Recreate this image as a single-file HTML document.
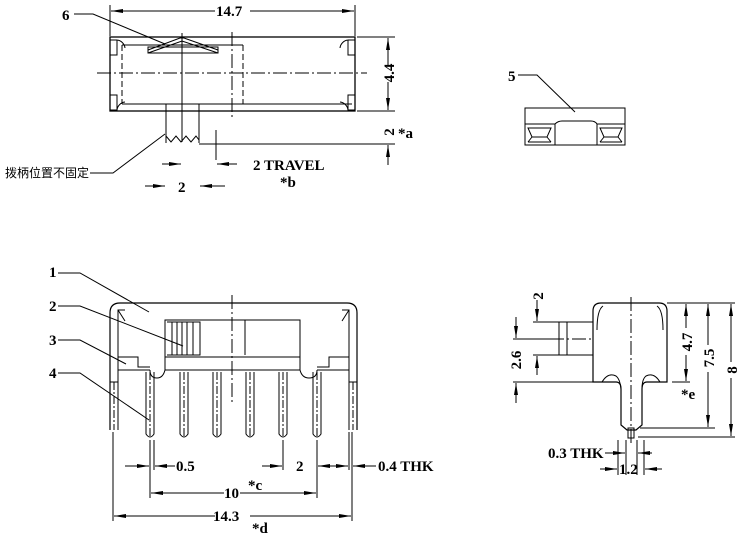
<!DOCTYPE html>
<html><head><meta charset="utf-8"><style>
html,body{margin:0;padding:0;background:#fff;width:742px;height:539px;overflow:hidden}
svg{display:block}
text{font-family:"Liberation Serif","Noto Serif CJK SC",serif;font-size:15px;font-weight:bold;fill:#000}
.cn{font-family:"Liberation Sans","Noto Sans CJK SC",sans-serif;font-size:12px;font-weight:normal}
</style></head><body>
<svg width="742" height="539" viewBox="0 0 742 539" xmlns="http://www.w3.org/2000/svg">
<defs>
<marker id="a" viewBox="0 0 12 4" refX="12" refY="2" markerWidth="12" markerHeight="4" orient="auto" markerUnits="userSpaceOnUse"><path d="M0,0L12,2L0,4z" fill="#000"/></marker>
</defs>
<g stroke="#000" stroke-width="1" fill="none">
<!-- TOP VIEW -->
<line x1="110" y1="5" x2="110" y2="36"/><line x1="355" y1="5" x2="355" y2="36"/>
<line x1="215" y1="11" x2="111" y2="11" marker-end="url(#a)"/><line x1="250" y1="11" x2="354" y2="11" marker-end="url(#a)"/>
<rect x="110" y="37" width="245" height="74" stroke-width="1.3"/>
<line x1="122" y1="45" x2="243" y2="45"/><line x1="122" y1="104" x2="352" y2="104"/>
<line x1="122" y1="45" x2="122" y2="104" stroke-dasharray="6,3"/>
<line x1="243" y1="45" x2="243" y2="104" stroke-dasharray="6,3"/>
<line x1="97" y1="73" x2="367" y2="73" stroke-dasharray="14,3,2,3"/>
<line x1="182" y1="33" x2="182" y2="142"/>
<line x1="232" y1="32" x2="232" y2="117" stroke-dasharray="14,3,2,3"/>
<path d="M110,40h7v15h-7M117,40a9,9 0 0 1 8,8M110,95h7v15h-7M117,110a9,9 0 0 1 8,-8M355,40h-7v15h7M348,40a9,9 0 0 0 -8,8M355,95h-7v15h7M348,110a9,9 0 0 0 -8,-8"/>
<rect x="148" y="47" width="70" height="6"/>
<path d="M148,50L180,38L184,38L218,50M148,53L182,41L218,53"/>
<path d="M166,104V143M199,104V143M166,136L171,142L176,136L181,142L186,136L191,142L196,136L199,140"/>
<text x="62" y="20" stroke="none">6</text>
<polyline points="74,14 93,14 165,44"/>
<line x1="199" y1="144" x2="395" y2="144"/><line x1="357" y1="111" x2="395" y2="111"/><line x1="357" y1="37" x2="395" y2="37"/>
<line x1="388" y1="65" x2="388" y2="38" marker-end="url(#a)"/><line x1="388" y1="82" x2="388" y2="110" marker-end="url(#a)"/>
<line x1="388" y1="165" x2="388" y2="145" marker-end="url(#a)"/>
<line x1="216" y1="130" x2="216" y2="160"/>
<line x1="237" y1="164" x2="217" y2="164" marker-end="url(#a)"/>
<line x1="162" y1="164" x2="181" y2="164" marker-end="url(#a)"/>
<line x1="145" y1="186" x2="165" y2="186" marker-end="url(#a)"/>
<line x1="225" y1="186" x2="200" y2="186" marker-end="url(#a)"/>
<polyline points="90,173 113,173 165,134"/>
<!-- PART 5 -->
<polyline points="518,75 537,75 575,112"/>
<rect x="525" y="108" width="100" height="37"/>
<path d="M525,124H555Q558,121 562,121H591Q595,121 597,124H625"/>
<path d="M555,124V145M597,124V145"/>
<path d="M528,128L551,128L547,137L532,137Z M528,142L551,142M532,137L528,142M547,137L551,142"/>
<path d="M600,128L622,128L618,137L604,137Z M600,142L622,142M604,137L600,142M618,137L622,142"/>
<!-- FRONT VIEW -->
<polyline points="58,273 80,273 149,312"/>
<polyline points="58,306 80,306 183,346"/>
<polyline points="58,340 80,340 126,364"/>
<polyline points="58,373 80,373 149,420"/>
<path d="M110,430V313Q110,303 120,303H347Q357,303 357,313V430" stroke-width="1.2"/>
<path d="M118,430V310H125M349,430V310H342M118,310L125,321M349,310L342,321"/>
<path d="M110,382H118M349,382H357"/>
<path d="M118,357H138V367H150M349,357H329V367H317"/>
<path d="M118,370H150M317,370H349"/>
<rect x="165" y="320" width="135" height="37"/>
<rect x="165" y="357" width="135" height="13"/>
<line x1="245" y1="320" x2="245" y2="355"/>
<path d="M167,322H200V355H167M172,322V355M177,322V355M182,322V355M187,322V355M193,322V355"/>
<line x1="232" y1="295" x2="232" y2="405" stroke-dasharray="14,3,2,3"/>
<path d="M150,370Q150,378 157,378Q163,378 165,370M300,370Q302,378 309,378Q317,378 317,370"/>
<g id="pin"><path d="M146,372V434Q150,440 154,434V372"/><line x1="150" y1="372" x2="150" y2="436" stroke-dasharray="8,2,2,2"/></g>
<use href="#pin" x="34"/><use href="#pin" x="67"/><use href="#pin" x="100"/><use href="#pin" x="133"/><use href="#pin" x="167"/>
<line x1="114" y1="382" x2="114" y2="430" stroke-dasharray="8,2,2,2"/><line x1="353" y1="382" x2="353" y2="430" stroke-dasharray="8,2,2,2"/>
<line x1="113" y1="432" x2="113" y2="521"/><line x1="352" y1="432" x2="352" y2="521"/><line x1="349" y1="432" x2="349" y2="470"/>
<line x1="150" y1="440" x2="150" y2="498"/><line x1="154" y1="440" x2="154" y2="470"/>
<line x1="317" y1="440" x2="317" y2="498"/><line x1="283" y1="440" x2="283" y2="470"/>
<line x1="125" y1="466" x2="149" y2="466" marker-end="url(#a)"/><line x1="175" y1="466" x2="155" y2="466" marker-end="url(#a)"/>
<line x1="262" y1="466" x2="282" y2="466" marker-end="url(#a)"/><line x1="335" y1="466" x2="318" y2="466" marker-end="url(#a)"/>
<line x1="320" y1="466" x2="348" y2="466" marker-end="url(#a)"/><line x1="376" y1="466" x2="353" y2="466" marker-end="url(#a)"/>
<line x1="224" y1="493" x2="151" y2="493" marker-end="url(#a)"/><line x1="240" y1="493" x2="316" y2="493" marker-end="url(#a)"/>
<line x1="215" y1="516" x2="114" y2="516" marker-end="url(#a)"/><line x1="250" y1="516" x2="351" y2="516" marker-end="url(#a)"/>
<!-- SIDE VIEW -->
<path d="M593,382V311Q593,303 601,303H659Q667,303 667,311V382H647Q642,382 642,389V425L636,430H627L621,425V389Q621,382 616,382Z" stroke-width="1.2"/>
<path d="M602,382Q608,372 616,376Q620,379 621,389M660,382Q654,372 646,376Q642,379 642,389"/>
<path d="M597,330Q597,310 603,306M663,330Q663,310 657,306"/>
<rect x="628" y="428" width="6" height="10"/>
<rect x="559" y="322" width="34" height="33"/>
<line x1="567" y1="322" x2="567" y2="355"/>
<line x1="631" y1="297" x2="631" y2="445" stroke-dasharray="14,3,2,3"/>
<line x1="550" y1="339" x2="593" y2="339" stroke-dasharray="14,3,2,3"/>
<line x1="513" y1="339" x2="550" y2="339"/>
<line x1="533" y1="322" x2="559" y2="322"/><line x1="533" y1="355" x2="559" y2="355"/>
<line x1="537" y1="300" x2="537" y2="321" marker-end="url(#a)"/><line x1="537" y1="375" x2="537" y2="356" marker-end="url(#a)"/>
<line x1="513" y1="382" x2="593" y2="382"/>
<line x1="516" y1="317" x2="516" y2="338" marker-end="url(#a)"/><line x1="516" y1="403" x2="516" y2="383" marker-end="url(#a)"/>
<line x1="667" y1="303" x2="735" y2="303"/><line x1="672" y1="382" x2="690" y2="382"/>
<line x1="640" y1="428" x2="715" y2="428"/><line x1="638" y1="437" x2="735" y2="437"/>
<line x1="686" y1="328" x2="686" y2="304" marker-end="url(#a)"/><line x1="686" y1="355" x2="686" y2="381" marker-end="url(#a)"/>
<line x1="708" y1="345" x2="708" y2="304" marker-end="url(#a)"/><line x1="708" y1="372" x2="708" y2="427" marker-end="url(#a)"/>
<line x1="731" y1="362" x2="731" y2="304" marker-end="url(#a)"/><line x1="731" y1="378" x2="731" y2="436" marker-end="url(#a)"/>
<line x1="626" y1="440" x2="626" y2="475"/><line x1="637" y1="440" x2="637" y2="475"/>
<line x1="618" y1="440" x2="618" y2="475"/><line x1="644" y1="440" x2="644" y2="475"/>
<line x1="605" y1="453" x2="625" y2="453" marker-end="url(#a)"/><line x1="652" y1="453" x2="638" y2="453" marker-end="url(#a)"/>
<line x1="600" y1="469" x2="617" y2="469" marker-end="url(#a)"/><line x1="662" y1="469" x2="645" y2="469" marker-end="url(#a)"/>
</g>
<g stroke="none">
<text x="216" y="16">14.7</text>
<text transform="translate(394,73) rotate(-90)" text-anchor="middle">4.4</text>
<text transform="translate(394,132) rotate(-90)" text-anchor="middle">2</text>
<text x="398" y="138" font-size="13">*a</text>
<text x="253" y="170">2 TRAVEL</text>
<text x="280" y="187" font-size="13">*b</text>
<text x="178" y="192">2</text>
<text class="cn" x="5" y="177">拨柄位置不固定</text>
<text x="508" y="81">5</text>
<text x="49" y="277">1</text><text x="49" y="311">2</text><text x="49" y="345">3</text><text x="49" y="378">4</text>
<text x="176" y="471">0.5</text>
<text x="296" y="471">2</text>
<text x="378" y="471">0.4  THK</text>
<text x="224" y="498">10</text><text x="248" y="490" font-size="13">*c</text>
<text x="213" y="521">14.3</text><text x="252" y="533" font-size="13">*d</text>
<text transform="translate(543,296) rotate(-90)" text-anchor="middle">2</text>
<text transform="translate(521,360) rotate(-90)" text-anchor="middle">2.6</text>
<text transform="translate(692,342) rotate(-90)" text-anchor="middle">4.7</text>
<text x="681" y="399" font-size="13">*e</text>
<text transform="translate(714,358) rotate(-90)" text-anchor="middle">7.5</text>
<text transform="translate(737,370) rotate(-90)" text-anchor="middle">8</text>
<text x="548" y="458">0.3  THK</text>
<text x="619" y="474">1.2</text>
</g>
</svg>
</body></html>
